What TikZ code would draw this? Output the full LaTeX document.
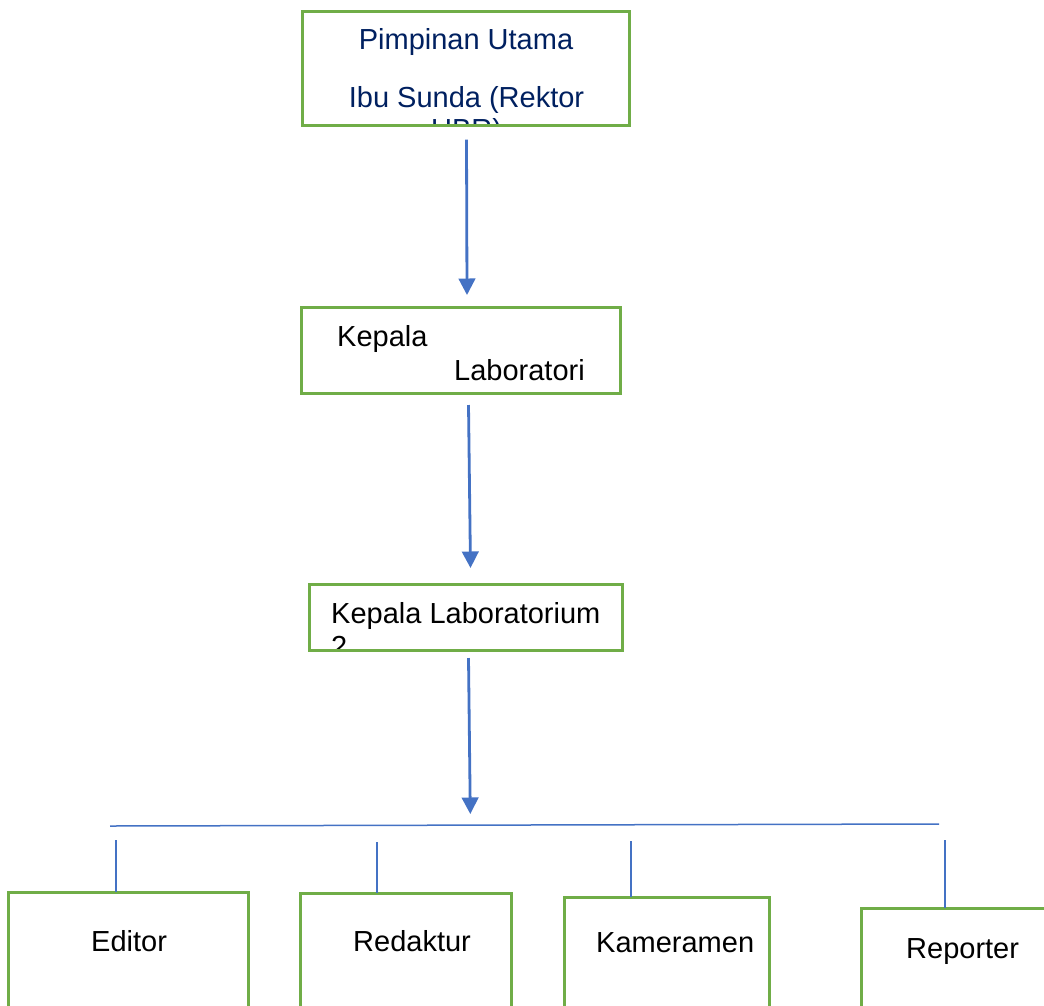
\documentclass[tikz,border=0pt]{standalone}
\usepackage{fontspec}
\setmainfont{Liberation Sans}
\usepackage{xcolor}
\usetikzlibrary{positioning, calc, arrows.meta}

\definecolor{hijau}{HTML}{70AD47}
\definecolor{biru}{HTML}{4472C4}
\definecolor{tintaBiru}{HTML}{002060}

\tikzset{
  kotak/.style={draw=hijau, line width=3pt, rectangle, outer sep=0pt, inner sep=0pt, anchor=north west},
  teks/.style={inner sep=0pt, font=\fontsize{29}{33}\selectfont},
  panah/.style={draw=biru, line width=2.8pt, -{Triangle[width=16.5pt,length=16.5pt]}},
  garis/.style={draw=biru, line width=2.8pt},
}

\begin{document}
\begin{tikzpicture}[x=1pt, y=-1pt]
    \useasboundingbox (0,0) rectangle (1044,1005);
    \clip (0,0) rectangle (1044,1005);

    % Text (clipped by the boxes)
    \begin{scope}
      \clip (302,11) rectangle (629,124.1);
      \node[teks, text=tintaBiru, anchor=base] (tPimpinan) at (466,49) {Pimpinan Utama};
      \node[teks, text=tintaBiru, anchor=base] (tRektor) at (466.5,107) {Ibu Sunda (Rektor};
      \node[teks, text=tintaBiru, anchor=base] (tUbr) at (466.5,139) {UBR)};
    \end{scope}
    \node[teks, anchor=base west] (tKepala) at (337,346) {Kepala};
    \node[teks, anchor=base west] (tLab) at (454,380) {Laboratori};
    \begin{scope}
      \clip (309,584) rectangle (622,648.5);
      \node[teks, anchor=base west] (tLab2) at (331,623) {Kepala Laboratorium};
      \node[teks, anchor=base west] (tDua) at (331,656) {2};
    \end{scope}

    % Boxes
    \node[kotak, minimum width=327pt, minimum height=114.6pt] (pimpinan) at (302,11) {};
    \node[kotak, minimum width=319pt, minimum height=86pt] (kepala) at (301,307) {};
    \node[kotak, minimum width=313pt, minimum height=66pt] (lab2) at (309,584) {};

    \node[kotak, minimum width=240.5pt, minimum height=130pt] (editor) at (8.3,892) {};
    \node[kotak, minimum width=211pt, minimum height=130pt] (redaktur) at (300,893) {};
    \node[kotak, minimum width=205pt, minimum height=130pt] (kameramen) at (564,897) {};
    \node[kotak, minimum width=210pt, minimum height=130pt] (reporter) at (861,908) {};

    \node[teks, anchor=base west] (tEditor) at (91,951.5) {Editor};
    \node[teks, anchor=base west] (tRedaktur) at (353,951.5) {Redaktur};
    \node[teks, anchor=base west] (tKameramen) at (596,952) {Kameramen};
    \node[teks, anchor=base west] (tReporter) at (906,958) {Reporter};

    % Arrows
    \coordinate (garisKiri) at (110,826);
    \coordinate (garisKanan) at (939,824);
    \coordinate (cabang) at (470.3,825);

    \draw[panah] ($(pimpinan.south)+(1,14)$) -- ($(kepala.north)+(6.5,-12)$);
    \draw[panah] ($(kepala.south)+(8,12)$) -- ($(lab2.north)+(5,-16)$);
    \draw[panah] ($(lab2.south)+(3,8)$) -- ($(cabang)+(0,-11)$);

    \draw[biru, line width=1.5pt] (garisKiri) -- (garisKanan);

    \foreach \nama/\x/\y in {editor/116/840, redaktur/377/842, kameramen/631/841, reporter/945/840}
    {
      \coordinate (atas-\nama) at (\x,\y);
      \draw[garis] (atas-\nama) -- (atas-\nama |- \nama.north);
    }
\end{tikzpicture}
\end{document}
